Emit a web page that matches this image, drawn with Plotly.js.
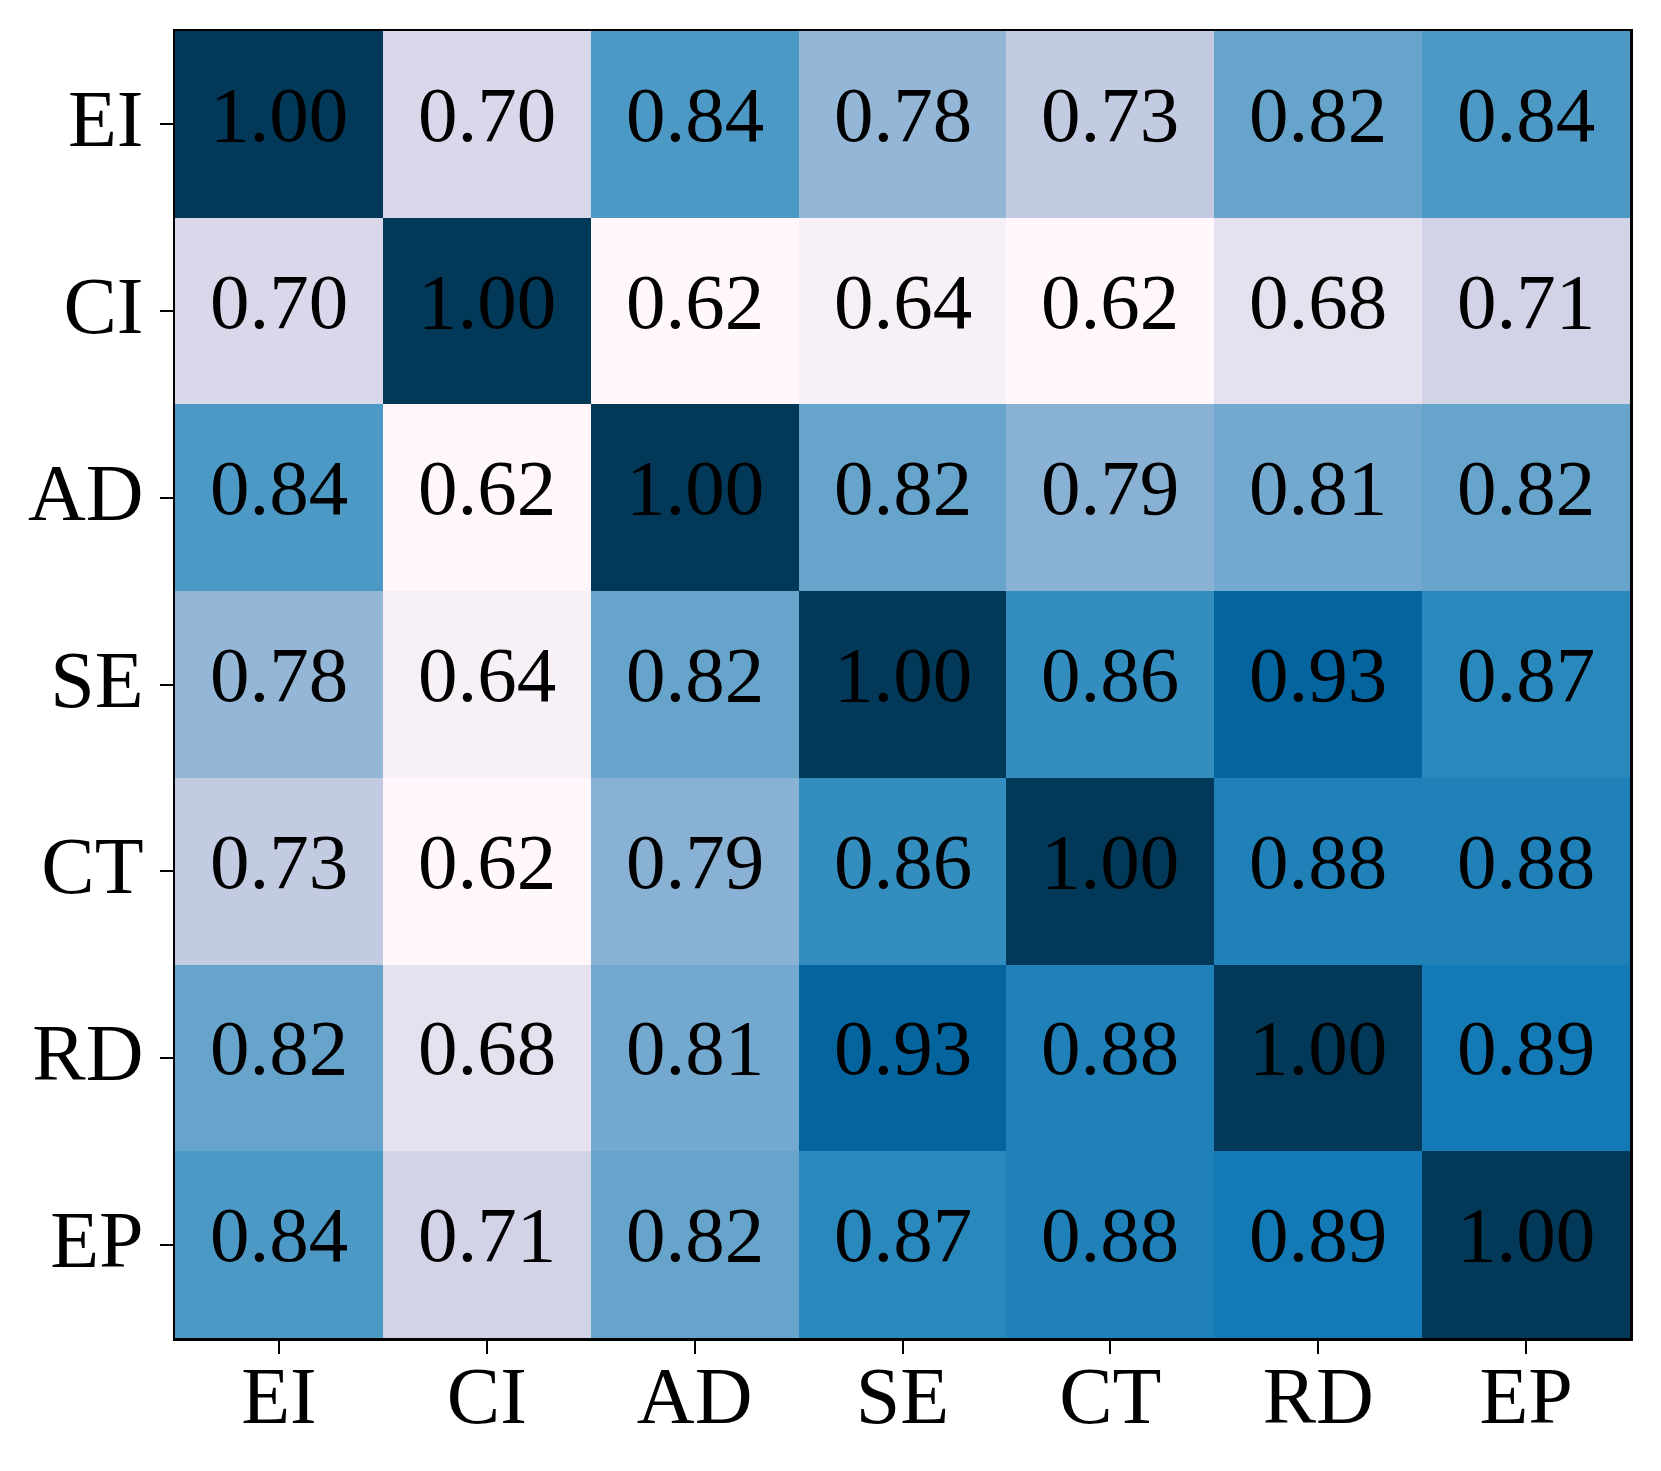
<!DOCTYPE html>
<html>
<head>
<meta charset="utf-8">
<script src="https://cdn.plot.ly/plotly-3.0.1.min.js"></script>
<style>html,body{margin:0;padding:0;background:#fff;}</style>
</head>
<body>
<div id="chart" style="width:1661px;height:1471px;"></div>
<script>
const labels = ["EI", "CI", "AD", "SE", "CT", "RD", "EP"];
const rowEI = [1.00, 0.70, 0.84, 0.78, 0.73, 0.82, 0.84];
const rowCI = [0.70, 1.00, 0.62, 0.64, 0.62, 0.68, 0.71];
const rowAD = [0.84, 0.62, 1.00, 0.82, 0.79, 0.81, 0.82];
const rowSE = [0.78, 0.64, 0.82, 1.00, 0.86, 0.93, 0.87];
const rowCT = [0.73, 0.62, 0.79, 0.86, 1.00, 0.88, 0.88];
const rowRD = [0.82, 0.68, 0.81, 0.93, 0.88, 1.00, 0.89];
const rowEP = [0.84, 0.71, 0.82, 0.87, 0.88, 0.89, 1.00];
const z = [rowEI, rowCI, rowAD, rowSE, rowCT, rowRD, rowEP];

const puBu = ["#fff7fb","#ece7f2","#d0d1e6","#a6bddb","#74a9cf","#3690c0","#0570b0","#045a8d","#023858"];
const colorscale = puBu.map((c, i) => [i / (puBu.length - 1), c]);

const font = "Liberation Serif, Times New Roman, serif";

const trace = {
  type: "heatmap",
  z: z,
  x: labels,
  y: labels,
  colorscale: colorscale,
  zmin: 0.62,
  zmax: 1.00,
  showscale: false,
  hoverinfo: "skip"
};

const annotations = [];
z.forEach((row, i) => {
  row.forEach((v, j) => {
    annotations.push({
      x: labels[j], y: labels[i], xref: "x", yref: "y",
      text: v.toFixed(2), showarrow: false,
      yshift: 10,
      font: {family: font, size: 79, color: "#000"}
    });
  });
});

const axisCommon = {
  showline: true,
  mirror: true,
  linecolor: "#000",
  linewidth: 2.5,
  ticks: "outside",
  ticklen: 13,
  tickwidth: 2,
  tickcolor: "#000",
  tickfont: {family: font, size: 80, color: "#000"},
  showgrid: false,
  zeroline: false,
  fixedrange: true
};

const layout = {
  width: 1661,
  height: 1471,
  margin: {l: 175, r: 31, t: 31, b: 133},
  paper_bgcolor: "#fff",
  plot_bgcolor: "#fff",
  xaxis: Object.assign({}, axisCommon, {type: "category", ticklabelstandoff: -27}),
  yaxis: Object.assign({}, axisCommon, {type: "category", autorange: "reversed", ticklabelshift: 6}),
  annotations: annotations,
  showlegend: false
};

Plotly.newPlot("chart", [trace], layout, {staticPlot: true, displayModeBar: false});
</script>
</body>
</html>
